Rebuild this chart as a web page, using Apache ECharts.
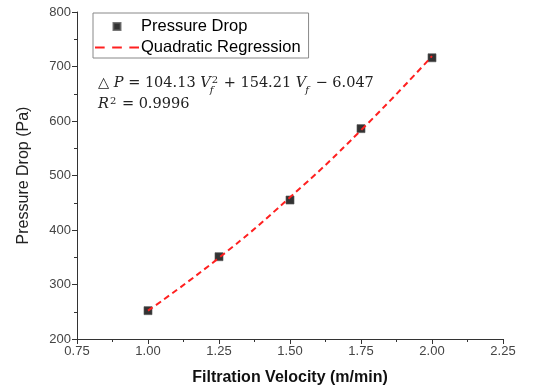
<!DOCTYPE html>
<html>
<head>
<meta charset="utf-8">
<script src="https://cdn.jsdelivr.net/npm/echarts@6/dist/echarts.min.js"></script>
<style>html,body{margin:0;padding:0;background:#fff}#c{width:537px;height:391px}</style>
</head>
<body>
<div id="c"></div>
<script>
// Data
const velocity = [1.00, 1.25, 1.50, 1.75, 2.00];
const pressureDrop = [252, 351, 455, 586, 716];
const fitVelocity = [1.00, 1.25, 1.50, 1.75, 2.00];
const fitPressure = [252, 349, 460, 583, 719];
const xTicks = ['0.75', '1.00', '1.25', '1.50', '1.75', '2.00', '2.25'];
const yTicks = [200, 300, 400, 500, 600, 700, 800];

const chart = echarts.init(document.getElementById('c'), null, {renderer: 'canvas'});
const axisCol = '#333';
const serif = '"DejaVu Serif", "Liberation Serif", serif';
const sans = '"Liberation Sans", Arial, sans-serif';

// Equation layout (text positions measured at runtime)
const ctx = document.createElement('canvas').getContext('2d');
function measure(t, size, italic) {
  ctx.font = (italic ? 'italic ' : '') + size + 'px ' + serif;
  return ctx.measureText(t).width;
}
function buildEquation(parts, x0, baseline, size) {
  const els = [];
  let x = x0;
  const small = Math.round(size * 0.66);
  parts.forEach(p => {
    if (p.stack) {
      let w = 0;
      if (p.sup) {
        els.push({type: 'text', x: x + 1, y: baseline - size * 0.40, style: {text: p.sup, fontFamily: serif, fontSize: small, fill: '#222', verticalAlign: 'bottom'}});
        w = Math.max(w, measure(p.sup, small, false) + 1);
      }
      if (p.sub) {
        els.push({type: 'text', x: x - 1, y: baseline + size * 0.30, style: {text: p.sub, fontFamily: serif, fontSize: small, fontStyle: 'italic', fill: '#222', verticalAlign: 'bottom'}});
        w = Math.max(w, measure(p.sub, small, true));
      }
      x += w + 1;
    } else {
      els.push({type: 'text', x: x, y: baseline, style: {text: p.t, fontFamily: serif, fontSize: size, fontStyle: p.i ? 'italic' : 'normal', fill: '#222', verticalAlign: 'bottom'}});
      x += measure(p.t, size, p.i);
    }
  });
  return els;
}
const eqSize = 14.5;
const eq1 = buildEquation([
  {t: '△ '}, {t: 'P', i: true}, {t: ' = 104.13 '}, {t: 'V', i: true}, {stack: true, sup: '2', sub: 'f'},
  {t: ' + 154.21 '}, {t: 'V', i: true}, {stack: true, sub: 'f'}, {t: ' − 6.047'}
], 98, 91, eqSize);
const eq2 = buildEquation([
  {t: 'R', i: true}, {stack: true, sup: '2'}, {t: ' = 0.9996'}
], 98, 112, eqSize);

const option = {
  animation: false,
  backgroundColor: '#fff',
  grid: {left: 77, right: 34, top: 12, bottom: 50},
  legend: {
    left: 93, top: 13, orient: 'vertical',
    padding: [5, 8, 2, 2],
    borderColor: '#888', borderWidth: 1,
    itemWidth: 44, itemHeight: 7, itemGap: 4,
    symbolKeepAspect: true,
    textStyle: {fontFamily: sans, fontSize: 16.5, color: '#000', padding: [0, 0, 0, -3]},
    data: [
      {name: 'Pressure Drop', icon: 'path://M0,0h7v7h-7z', itemStyle: {color: '#000'}},
      {name: 'Quadratic Regression', icon: 'path://M0,0h9v2h-9zM16,0h9v2h-9zM32,0h9v2h-9z', itemStyle: {color: '#ff2020'}}
    ]
  },
  xAxis: {
    type: 'value', min: 0.75, max: 2.25, interval: 0.25,
    name: 'Filtration Velocity (m/min)', nameLocation: 'middle', nameGap: 31,
    nameTextStyle: {fontFamily: sans, fontSize: 16, fontWeight: 'bold', color: '#111'},
    axisLine: {show: true, lineStyle: {color: axisCol, width: 1}},
    axisTick: {show: true, inside: false, length: 5, lineStyle: {color: axisCol}},
    minorTick: {show: true, splitNumber: 2, length: 3, lineStyle: {color: axisCol}},
    axisLabel: {fontFamily: sans, fontSize: 13, color: '#444', margin: 6,
      formatter: v => xTicks[Math.round((v - 0.75) / 0.25)]},
    splitLine: {show: false}
  },
  yAxis: {
    type: 'value', min: 200, max: 800, interval: 100,
    name: 'Pressure Drop (Pa)', nameLocation: 'middle', nameGap: 45,
    nameTextStyle: {fontFamily: sans, fontSize: 16, color: '#222'},
    axisLine: {show: true, lineStyle: {color: axisCol, width: 1}},
    axisTick: {show: true, inside: false, length: 5, lineStyle: {color: axisCol}},
    minorTick: {show: true, splitNumber: 2, length: 3, lineStyle: {color: axisCol}},
    axisLabel: {fontFamily: sans, fontSize: 13, color: '#444', margin: 6,
      formatter: v => String(yTicks[Math.round((v - 200) / 100)])},
    splitLine: {show: false}
  },
  series: [
    {
      name: 'Quadratic Regression', type: 'line', smooth: true,
      data: fitVelocity.map((v, i) => [v, fitPressure[i]]),
      symbol: 'none',
      lineStyle: {color: '#ff2020', width: 2, type: [6, 4]},
      itemStyle: {color: '#ff2020'},
      z: 3
    },
    {
      name: 'Pressure Drop', type: 'scatter',
      data: velocity.map((v, i) => [v, pressureDrop[i]]),
      symbol: 'rect', symbolSize: 8,
      itemStyle: {color: '#000', borderColor: '#555', borderWidth: 0.8},
      z: 2
    }
  ],
  graphic: eq1.concat(eq2)
};
chart.setOption(option);
</script>
</body>
</html>
